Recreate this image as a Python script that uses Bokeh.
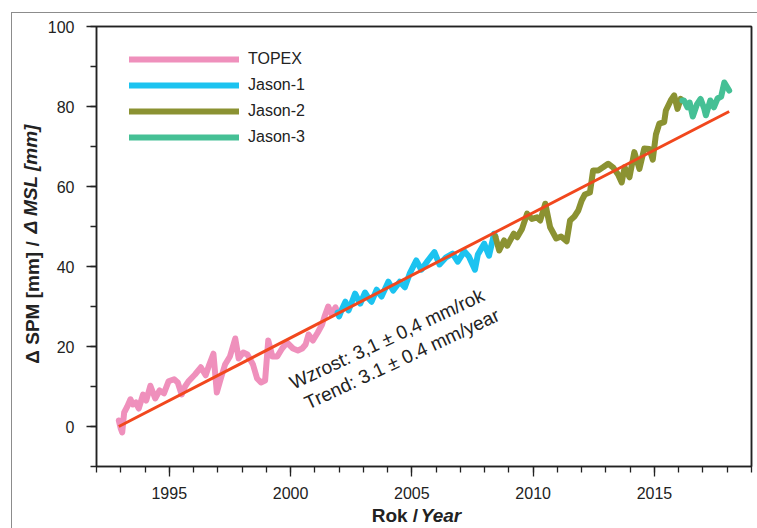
import numpy as np
from bokeh.plotting import figure
from bokeh.models import (SingleIntervalTicker, FixedTicker, Range1d, Legend, LegendItem, Label,
                          LinearAxis)
from bokeh.embed import file_html
from bokeh.resources import INLINE

# ---------------- data ----------------
topex_t = [1992.92, 1993.00, 1993.06, 1993.14, 1993.27, 1993.40, 1993.50, 1993.62, 1993.74, 1993.92,
           1994.05, 1994.22, 1994.42, 1994.60, 1994.78, 1994.97, 1995.20, 1995.35, 1995.51, 1995.65,
           1995.79, 1996.06, 1996.30, 1996.50, 1996.65, 1996.82, 1996.96, 1997.10, 1997.30, 1997.50,
           1997.72, 1997.86, 1998.05, 1998.22, 1998.45, 1998.62, 1998.78, 1998.95, 1999.08, 1999.25,
           1999.45, 1999.65, 1999.85, 2000.10, 2000.30, 2000.48, 2000.62, 2000.74, 2000.92, 2001.12,
           2001.30, 2001.40, 2001.55, 2001.70, 2001.85, 2001.94]
topex_y = [1.5, -0.5, -1.5, 3.5, 5.0, 6.8, 5.5, 6.0, 4.5, 8.0,
           6.5, 10.2, 7.0, 9.0, 8.3, 11.3, 11.8, 11.0, 8.0, 10.0,
           11.3, 13.0, 14.8, 12.8, 15.5, 18.2, 8.5, 11.5, 15.5, 17.5,
           22.0, 17.0, 18.5, 18.0, 15.5, 12.0, 11.0, 11.5, 21.5, 17.5,
           17.5, 19.5, 21.0, 19.5, 19.0, 19.5, 20.5, 23.0, 21.5, 23.5,
           25.5, 27.5, 30.0, 28.0, 29.8, 28.5]

jason1_t = [2001.94, 2002.00, 2002.13, 2002.26, 2002.39, 2002.55, 2002.66, 2002.87, 2003.07, 2003.22,
            2003.34, 2003.55, 2003.75, 2004.03, 2004.23, 2004.50, 2004.71, 2004.91, 2005.18, 2005.39,
            2005.66, 2005.93, 2006.14, 2006.41, 2006.68, 2006.89, 2007.16, 2007.35, 2007.50, 2007.60,
            2007.72, 2007.98, 2008.18, 2008.39, 2008.44]
jason1_y = [28.5, 27.5, 29.5, 31.2, 29.0, 31.5, 33.2, 30.7, 33.5, 32.0,
            31.2, 34.2, 32.5, 36.2, 34.0, 36.2, 34.8, 38.2, 41.5, 39.2,
            41.5, 43.6, 40.5, 42.3, 43.2, 41.2, 43.8, 42.5, 40.5, 39.2,
            43.0, 45.7, 42.7, 48.2, 47.5]

jason2_t = [2008.44, 2008.60, 2008.80, 2008.93, 2009.20, 2009.34, 2009.54, 2009.75, 2009.95, 2010.16,
            2010.29, 2010.50, 2010.70, 2010.95, 2011.15, 2011.38, 2011.52, 2011.70, 2011.86, 2012.00,
            2012.13, 2012.34, 2012.47, 2012.68, 2012.88, 2013.09, 2013.29, 2013.50, 2013.65, 2013.77,
            2013.97, 2014.17, 2014.38, 2014.58, 2014.79, 2014.93, 2015.06, 2015.20, 2015.40, 2015.47,
            2015.67, 2015.81, 2015.95, 2016.08, 2016.15]
jason2_y = [47.5, 44.0, 46.5, 45.2, 48.2, 47.3, 49.4, 53.2, 51.9, 52.3,
            51.5, 55.7, 49.8, 47.0, 47.5, 46.3, 51.5, 52.5, 54.0, 56.5,
            58.0, 58.5, 64.0, 64.0, 64.8, 65.7, 64.8, 63.0, 61.0, 64.8,
            62.3, 68.6, 64.4, 69.5, 69.4, 66.7, 73.0, 75.7, 76.1, 79.0,
            81.5, 82.8, 79.4, 81.9, 81.5]

jason3_t = [2016.15, 2016.22, 2016.36, 2016.45, 2016.58, 2016.75, 2016.90, 2017.05, 2017.12, 2017.30,
            2017.45, 2017.60, 2017.75, 2017.88, 2017.98, 2018.08]
jason3_y = [81.5, 81.5, 79.8, 81.0, 77.5, 80.5, 81.9, 79.5, 77.8, 81.5,
            79.8, 82.0, 82.5, 86.0, 85.0, 84.0]

series_names = ["TOPEX", "Jason-1", "Jason-2", "Jason-3"]
series_colors = ["#ef90bc", "#1cc3f0", "#8b9232", "#45c095"]

trend_start = 1992.92
trend_end = 2018.08
trend_slope = 3.13   # mm / year
trend_color = "#f1471d"

x_start, x_end = 1992, 2019
y_start, y_end = -10, 100

x_title_parts = ["Rok /", "Year"]
y_title_parts = ["Δ SPM [mm] /", "Δ MSL [mm]"]

FONT = "'Liberation Sans', Arial, sans-serif"
TXT = "#222222"

# ---------------- figure ----------------
p = figure(width=745, height=515, x_range=Range1d(x_start, x_end), y_range=Range1d(y_start, y_end),
           output_backend="svg", toolbar_location=None,
           min_border_left=84, min_border_right=1, min_border_top=13, min_border_bottom=62)
p.styles = {"margin-left": "12px", "margin-top": "13px", "outline": "1px solid #8c8c8c"}
p.xgrid.visible = False
p.ygrid.visible = False
p.outline_line_color = TXT
p.outline_line_width = 1.5
p.background_fill_color = "white"
p.border_fill_color = "white"

for ax in (p.xaxis, p.yaxis):
    ax.axis_line_color = TXT
    ax.axis_line_width = 1.5
    ax.major_tick_line_color = TXT
    ax.minor_tick_line_color = TXT
    ax.major_tick_line_width = 1.3
    ax.minor_tick_line_width = 1.3
    ax.major_tick_in = 0
    ax.minor_tick_in = 0
    ax.major_tick_out = 10
    ax.minor_tick_out = 6
    ax.major_label_text_font = FONT
    ax.major_label_text_font_size = "16px"
    ax.major_label_text_color = TXT

p.xaxis.ticker = SingleIntervalTicker(interval=5, num_minor_ticks=5)
p.yaxis.ticker = SingleIntervalTicker(interval=20, num_minor_ticks=2)
p.xaxis.major_label_standoff = 10
p.yaxis.major_label_standoff = 12

# frame lines on top and right (axis lines only)
for place in ("above", "right"):
    fa = LinearAxis(axis_line_color=TXT, axis_line_width=1.5,
                    major_tick_line_color=None, minor_tick_line_color=None,
                    major_label_text_font_size="0px", major_label_text_alpha=0)
    p.add_layout(fa, place)


def title_axis(tick, text, style, standoff, orientation="horizontal"):
    return LinearAxis(ticker=FixedTicker(ticks=[tick], minor_ticks=[]),
                      major_label_overrides={tick: text},
                      major_label_text_font=FONT, major_label_text_font_size="19px",
                      major_label_text_font_style=style, major_label_text_color=TXT,
                      major_label_standoff=standoff, major_label_orientation=orientation,
                      axis_line_color=None, major_tick_line_color=None,
                      minor_tick_line_color=None, major_tick_out=0, major_tick_in=0,
                      minor_tick_out=0, minor_tick_in=0)


# axis titles made of tick labels (bold and bold-italic parts on the same line)
p.add_layout(title_axis(2004.3, x_title_parts[0], "bold", 3), "below")
p.add_layout(title_axis(2006.2, x_title_parts[1], "bold italic", -24), "below")
p.add_layout(title_axis(31.0, y_title_parts[0], "bold", 2, "vertical"), "left")
p.add_layout(title_axis(62.0, y_title_parts[1], "bold italic", -22, "vertical"), "left")

# ---------------- series ----------------
renderers = []
for t, y, c in zip([topex_t, jason1_t, jason2_t, jason3_t],
                   [topex_y, jason1_y, jason2_y, jason3_y], series_colors):
    r = p.line(t, y, line_color=c, line_width=6, line_cap="round", line_join="round")
    renderers.append(r)

tx = np.array([trend_start, trend_end])
ty = trend_slope * (tx - trend_start)
p.line(tx, ty, line_color=trend_color, line_width=3)

legend = Legend(items=[LegendItem(label=n, renderers=[r]) for n, r in zip(series_names, renderers)],
                location=(33, 316), orientation="vertical",
                glyph_width=110, glyph_height=26, label_height=26, spacing=0,
                padding=0, margin=0, label_standoff=9,
                label_text_font=FONT, label_text_font_size="16px", label_text_color=TXT,
                border_line_alpha=0, background_fill_alpha=0)
p.add_layout(legend)

# ---------------- trend texts ----------------
ang = np.deg2rad(25)
p.add_layout(Label(x=2000.01, y=10.67, text="Wzrost: 3,1 ± 0,4 mm/rok", angle=ang,
                   text_font=FONT, text_font_size="19px", text_color=TXT,
                   text_align="left", text_baseline="alphabetic"))
p.add_layout(Label(x=2000.62, y=5.67, text="Trend: 3.1 ± 0.4 mm/year", angle=ang,
                   text_font=FONT, text_font_size="19px", text_color=TXT,
                   text_align="left", text_baseline="alphabetic"))

open("out.html", "w").write(file_html(p, INLINE))
